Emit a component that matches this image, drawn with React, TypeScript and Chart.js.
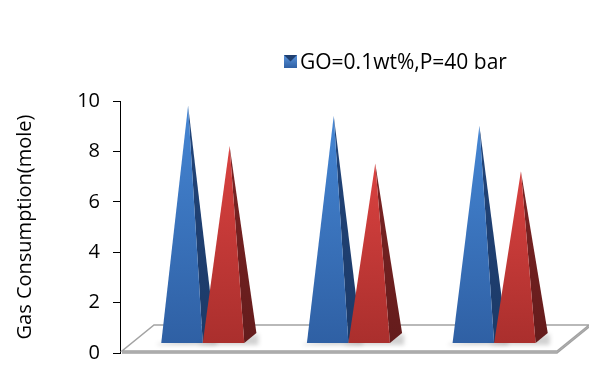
import React, { useEffect, useRef } from 'react';
import { Chart, registerables } from 'chart.js';

Chart.register(...registerables);

// ---- data ----
const categories = ['A', 'B', 'C'];
const seriesLabels = ['GO=0.1wt%,P=40 bar', 'Series 2'];
const seriesBlue = [9.3, 8.9, 8.5];
const seriesRed = [7.7, 7.0, 6.7];
const yTicks = [0, 2, 4, 6, 8, 10];

// ---- styling ----
const FONT = '"Open Sans", "Noto Sans", sans-serif';
const WIDTH = 589;
const HEIGHT = 369;
// oblique projection of the floor depth
const DX = 32;
const DY = -26;
// pyramid footprint as a fraction of the floor depth
const FRONT = 0.31;
const BACK = 0.69;

const palettes = [
  { top: '#4586d4', bottom: '#2f60a4', side: '#22457a', sideDark: '#1c3a68' },
  { top: '#da4240', bottom: '#aa2f2d', side: '#7c2424', sideDark: '#641c1c' },
];

const floorPlugin = {
  id: 'floor3d',
  beforeDatasetsDraw(chart: any) {
    const { ctx, chartArea: a } = chart;
    const l = a.left + 2;
    const r = a.right;
    const b = a.bottom;
    ctx.save();
    // thin slab edge
    ctx.fillStyle = '#c8c8c8';
    ctx.beginPath();
    ctx.moveTo(l, b - 2);
    ctx.lineTo(r, b - 2);
    ctx.lineTo(r + DX, b - 2 + DY);
    ctx.lineTo(r + DX, b + DY);
    ctx.lineTo(r, b);
    ctx.lineTo(l, b);
    ctx.closePath();
    ctx.fill();
    // top face
    ctx.beginPath();
    ctx.moveTo(l, b - 2);
    ctx.lineTo(r, b - 2);
    ctx.lineTo(r + DX, b - 2 + DY);
    ctx.lineTo(l + DX, b - 2 + DY);
    ctx.closePath();
    ctx.fillStyle = '#ffffff';
    ctx.fill();
    ctx.lineWidth = 1.5;
    ctx.strokeStyle = '#a3a3a3';
    ctx.stroke();
    ctx.beginPath();
    ctx.moveTo(l, b);
    ctx.lineTo(r, b);
    ctx.lineTo(r + DX, b + DY);
    ctx.stroke();
    ctx.restore();
  },
};

const pyramidPlugin = {
  id: 'pyramids',
  afterDatasetsDraw(chart: any) {
    const { ctx } = chart;
    const yScale = chart.scales.y;
    const base = yScale.getPixelForValue(0);
    chart.data.datasets.forEach((_ds: any, di: number) => {
      const meta = chart.getDatasetMeta(di);
      const pal = palettes[di];
      meta.data.forEach((bar: any) => {
        const { x, y, width } = bar.getProps(['x', 'y', 'width'], true);
        const x0 = x - width / 2 + FRONT * DX;
        const x1 = x + width / 2 + FRONT * DX;
        const yb = base - 2 + FRONT * DY;
        const x2 = x + width / 2 + BACK * DX;
        const yb2 = base - 2 + BACK * DY;
        const ax = x + 0.5 * DX;
        const ay = y + 0.5 * DY;

        ctx.save();
        // soft contact shadow
        ctx.fillStyle = 'rgba(0,0,0,0.18)';
        ctx.filter = 'blur(2px)';
        ctx.beginPath();
        ctx.moveTo(x0 - 4, yb + 1);
        ctx.lineTo(x2 + 2, yb2 + 1);
        ctx.lineTo(x2 + 2, yb + 2);
        ctx.lineTo(x0 - 4, yb + 2);
        ctx.closePath();
        ctx.fill();
        ctx.filter = 'none';

        // right face
        const gs = ctx.createLinearGradient(0, ay, 0, yb);
        gs.addColorStop(0, pal.side);
        gs.addColorStop(1, pal.sideDark);
        ctx.fillStyle = gs;
        ctx.beginPath();
        ctx.moveTo(x1, yb);
        ctx.lineTo(x2, yb2);
        ctx.lineTo(ax, ay);
        ctx.closePath();
        ctx.fill();

        // front face
        const gf = ctx.createLinearGradient(0, ay, 0, yb);
        gf.addColorStop(0, pal.top);
        gf.addColorStop(1, pal.bottom);
        ctx.fillStyle = gf;
        ctx.beginPath();
        ctx.moveTo(x0, yb);
        ctx.lineTo(x1, yb);
        ctx.lineTo(ax, ay);
        ctx.closePath();
        ctx.fill();
        ctx.restore();
      });
    });
  },
};

const legendPlugin = {
  id: 'legendBox',
  afterDraw(chart: any) {
    const { ctx } = chart;
    const label = chart.data.datasets[0].label;
    ctx.save();
    const g = ctx.createLinearGradient(284, 55, 284, 68);
    g.addColorStop(0, '#5b95dc');
    g.addColorStop(1, '#2f60a4');
    ctx.fillStyle = g;
    ctx.fillRect(284, 55, 13, 13);
    ctx.fillStyle = '#1f3f70';
    ctx.beginPath();
    ctx.moveTo(284, 55);
    ctx.lineTo(297, 55);
    ctx.lineTo(290.5, 61.5);
    ctx.closePath();
    ctx.fill();
    ctx.fillStyle = '#000';
    ctx.font = `21px ${FONT}`;
    ctx.textBaseline = 'alphabetic';
    ctx.textAlign = 'left';
    ctx.fillText(label, 300, 69);
    ctx.restore();
  },
};

export default function App() {
  const canvasRef = useRef<HTMLCanvasElement | null>(null);

  useEffect(() => {
    const canvas = canvasRef.current;
    if (!canvas) return;
    const chart = new Chart(canvas, {
      type: 'bar',
      data: {
        labels: categories,
        datasets: [
          {
            label: seriesLabels[0],
            data: seriesBlue,
            backgroundColor: 'rgba(0,0,0,0)',
            borderWidth: 0,
          },
          {
            label: seriesLabels[1],
            data: seriesRed,
            backgroundColor: 'rgba(0,0,0,0)',
            borderWidth: 0,
          },
        ],
      },
      options: {
        responsive: false,
        animation: false,
        devicePixelRatio: 1,
        layout: { padding: { top: 101, bottom: 16, right: 32, left: 0 } },
        plugins: {
          legend: { display: false },
          tooltip: { enabled: false },
          title: { display: false },
        },
        datasets: {
          bar: { categoryPercentage: 0.57, barPercentage: 1 },
        },
        scales: {
          x: {
            type: 'category',
            display: false,
          },
          y: {
            min: 0,
            max: 10,
            afterBuildTicks(scale: any) {
              scale.ticks = yTicks.map((v) => ({ value: v }));
            },
            ticks: {
              color: '#000',
              padding: 13,
              font: { family: FONT, size: 20 },
            },
            grid: {
              drawOnChartArea: false,
              drawTicks: true,
              tickLength: 7,
              color: '#000',
            },
            border: { display: true, color: '#000', width: 1 },
            title: {
              display: true,
              text: 'Gas Consumption(mole)',
              color: '#000',
              font: { family: FONT, size: 20 },
              padding: { top: 13, bottom: 0 },
            },
            afterFit(scale: any) {
              scale.width = 120;
              scale.paddingTop = 0;
              scale.paddingBottom = 0;
            },
          },
        },
      },
      plugins: [floorPlugin, pyramidPlugin, legendPlugin],
    });
    return () => chart.destroy();
  }, []);

  return (
    <div style={{ position: 'absolute', left: 0, top: 0, width: WIDTH, height: HEIGHT, background: '#fff' }}>
      <canvas ref={canvasRef} width={WIDTH} height={HEIGHT} style={{ display: 'block' }} />
    </div>
  );
}
